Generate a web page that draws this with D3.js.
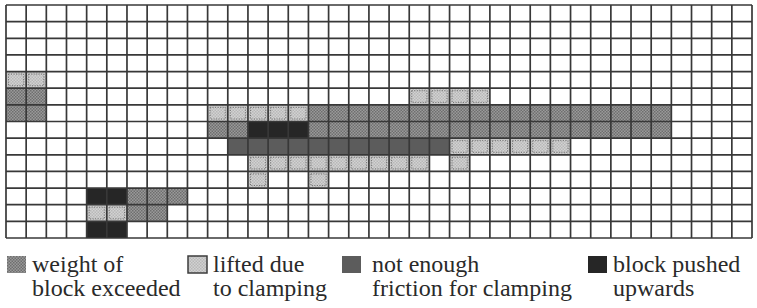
<!DOCTYPE html>
<html>
<head>
	<meta charset="utf-8">
	<script src="https://cdn.jsdelivr.net/npm/d3@7"></script>
	<style>
		body { margin: 0; background: white; }
	</style>
</head>
<body>

	<script>

		var width  = 757;
		var height = 308;

		/*//////////////////////////////////////////////////////////////////////
		//                                                                    //
		//                              DATA                                  //
		//                                                                    //
		//////////////////////////////////////////////////////////////////////*/

		var num_cols = 37;
		var num_rows = 14;

		// legend labels, two lines each
		var categories = [
			["weight of", "block exceeded"],
			["lifted due", "to clamping"],
			["not enough", "friction for clamping"],
			["block pushed", "upwards"]
		];

		// runs of marked cells: [row, first col, last col]
		var weight_cells = [
			[5, 0, 1], [6, 0, 1], [6, 15, 32], [7, 10, 11], [7, 15, 32],
			[11, 6, 8], [12, 6, 7]
		];
		var lifted_cells = [
			[4, 0, 1], [5, 20, 23], [6, 10, 14], [8, 22, 27], [9, 12, 20],
			[9, 22, 22], [10, 12, 12], [10, 15, 15], [12, 4, 5]
		];
		var friction_cells = [
			[8, 11, 21]
		];
		var pushed_cells = [
			[7, 12, 14], [11, 4, 5], [13, 4, 5]
		];

		/*//////////////////////////////////////////////////////////////////////
		//                                                                    //
		//                             DRAWING                                //
		//                                                                    //
		//////////////////////////////////////////////////////////////////////*/

		var svg = d3.select('body').append('svg')
			.attr('width', width)
			.attr('height', height)
			.style('background-color', 'white');

		var x = d3.scaleBand()
			.domain(d3.range(num_cols))
			.range([6, 752])
			.padding(0);

		var y = d3.scaleBand()
			.domain(d3.range(num_rows))
			.range([5, 238])
			.padding(0);

		var grid_color = "#383838";
		var serif = "Times New Roman, Liberation Serif, DejaVu Serif, serif";

		// textures for the four kinds of failure
		var defs = svg.append("defs");

		function dotPattern(id, base, dot) {
			var p = defs.append("pattern")
				.attr("id", id)
				.attr("width", 3)
				.attr("height", 3)
				.attr("patternUnits", "userSpaceOnUse");
			p.append("rect").attr("width", 3).attr("height", 3).attr("fill", base);
			p.append("rect").attr("width", 1.5).attr("height", 1.5).attr("fill", dot);
			p.append("rect").attr("x", 1.5).attr("y", 1.5)
				.attr("width", 1.5).attr("height", 1.5).attr("fill", dot);
		}

		dotPattern("weight", "#9a9a9a", "#6e6e6e");
		dotPattern("lifted", "#d2d2d2", "#b8b8b8");

		var fills  = ["url(#weight)", "url(#lifted)", "#5c5c5c", "#262626"];
		var groups = [weight_cells, lifted_cells, friction_cells, pushed_cells];

		// expand runs into single cells
		var cells = [];
		groups.forEach(function(runs, k) {
			runs.forEach(function(r) {
				for (var c = r[1]; c <= r[2]; c++)
					cells.push({ row: r[0], col: c, kind: k });
			});
		});

		svg.append("g").selectAll("rect")
			.data(cells)
			.enter().append("rect")
			.attr("x", function(d) { return x(d.col); })
			.attr("y", function(d) { return y(d.row); })
			.attr("width", x.bandwidth())
			.attr("height", y.bandwidth())
			.attr("fill", function(d) { return fills[d.kind]; });

		// dotted outline round the lifted cells
		svg.append("g").selectAll("rect")
			.data(cells.filter(function(d) { return d.kind == 1; }))
			.enter().append("rect")
			.attr("x", function(d) { return x(d.col) + 2.5; })
			.attr("y", function(d) { return y(d.row) + 2.5; })
			.attr("width", x.bandwidth() - 5)
			.attr("height", y.bandwidth() - 5)
			.attr("fill", "none")
			.attr("stroke", "#6a6a6a")
			.attr("stroke-width", 1)
			.attr("stroke-dasharray", "1,1.5");

		// grid lines
		var grid = svg.append("g")
			.attr("stroke", grid_color)
			.attr("stroke-width", 1.7);

		grid.selectAll("line.v")
			.data(d3.range(num_cols + 1))
			.enter().append("line")
			.attr("class", "v")
			.attr("x1", function(d) { return d < num_cols ? x(d) : x.range()[1]; })
			.attr("x2", function(d) { return d < num_cols ? x(d) : x.range()[1]; })
			.attr("y1", y.range()[0])
			.attr("y2", y.range()[1]);

		grid.selectAll("line.h")
			.data(d3.range(num_rows + 1))
			.enter().append("line")
			.attr("class", "h")
			.attr("y1", function(d) { return d < num_rows ? y(d) : y.range()[1]; })
			.attr("y2", function(d) { return d < num_rows ? y(d) : y.range()[1]; })
			.attr("x1", x.range()[0])
			.attr("x2", x.range()[1]);

		/*//////////////////////////////////////////////////////////////////////
		//                                                                    //
		//                              LEGEND                                //
		//                                                                    //
		//////////////////////////////////////////////////////////////////////*/

		var legend_x = [7, 188, 342, 588];

		var item = svg.append("g").selectAll("g")
			.data(categories)
			.enter().append("g")
			.attr("transform", function(d, i) { return "translate(" + legend_x[i] + ",256)"; });

		item.append("rect")
			.attr("width", 19)
			.attr("height", 17)
			.attr("fill", function(d, i) { return fills[i]; })
			.attr("stroke", function(d, i) { return i == 1 ? "#3c3c3c" : "none"; })
			.attr("stroke-width", 1.5);

		// one text per line so the two lines stay apart
		item.selectAll("text")
			.data(function(d, i) {
				return d.map(function(t, j) { return { t: t, j: j, i: i }; });
			})
			.enter().append("text")
			.attr("x", function(d) { return d.i == 2 ? 30 : 25; })
			.attr("y", function(d) { return 16 + d.j * 24; })
			.attr("font-family", serif)
			.attr("font-size", 24)
			.attr("fill", "#2a2a2a")
			.text(function(d) { return d.t; });

	</script>
</body>
</html>
